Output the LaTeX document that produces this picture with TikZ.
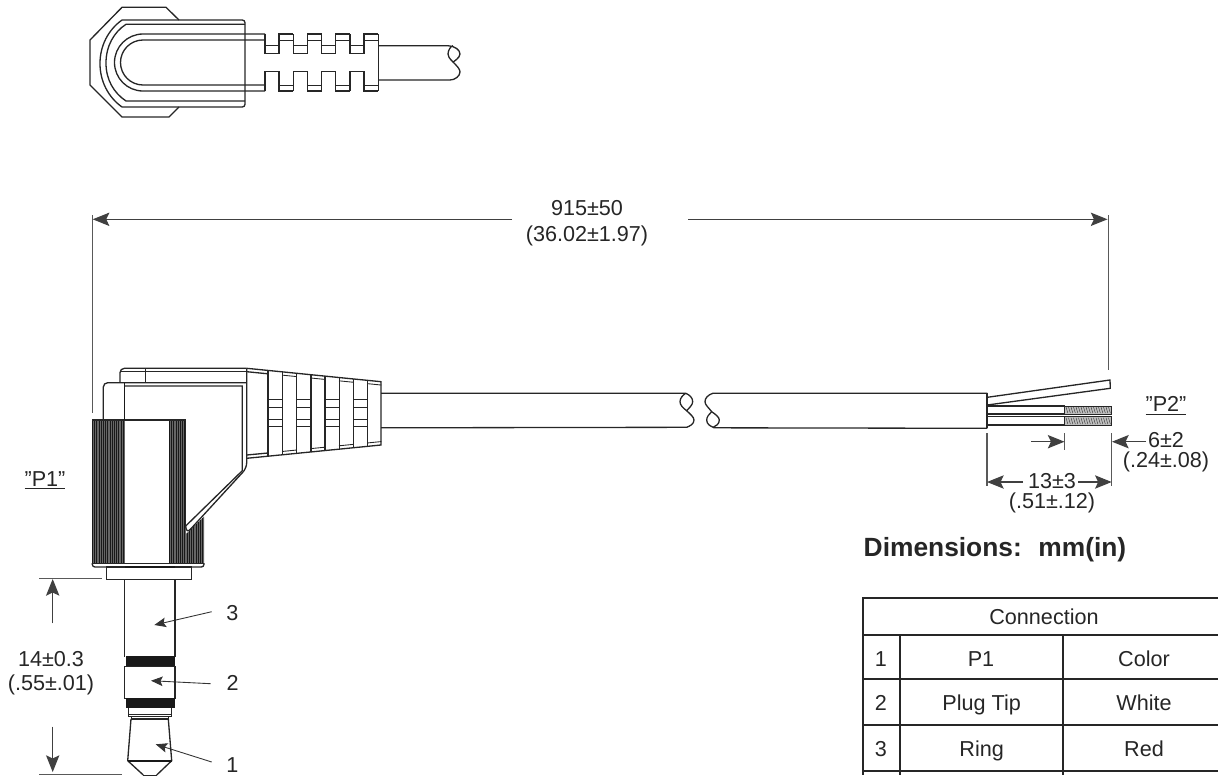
\documentclass[tikz,border=0pt]{standalone}
\usepackage{fontspec}
\setmainfont{Liberation Sans}
\usetikzlibrary{arrows.meta}
\tikzset{
  outline/.style={line width=0.75pt, black!85},
  thinline/.style={line width=0.5pt, black!85},
  tableline/.style={line width=1pt, black!85},
  extline/.style={line width=0.6pt, black!65},
  dimarrow/.style={line width=0.6pt, black!75, -{Stealth[length=9.5pt,width=7.6pt,inset=1.8pt]}},
  leader/.style={line width=0.5pt, black!80, -{Stealth[length=6.6pt,width=5.4pt,inset=1.2pt]}},
  dimlabel/.style={inner sep=0pt, anchor=base, text=black!85, font=\fontsize{12.3}{14}\selectfont},
  knurl/.style={line width=0.5pt, black!90},
  hatch/.style={line width=0.25pt, black!80},
  band/.style={fill=black!90, draw=black!90, line width=0.4pt},
}
\begin{document}
\begin{tikzpicture}[x=0.02cm, y=-0.02cm]
        \useasboundingbox (0,0) rectangle (1218,775);
        \clip (0,0) rectangle (1218,775);

        \draw [outline]  (179,20) -- (166,7.3) -- (122,7.3) -- (90,40) -- (90,85) -- (122,117) -- (169,117) -- (179,107);
        \draw [outline, rounded corners=1.5]  (122,20) -- (245,20) -- (245,107) -- (122,107);
        \draw [outline]  (122,20) .. controls (108,30) and (100,46) .. (100,63.5) .. controls (100,81) and (108,97) .. (122,107);
        \draw [outline]  (245,24.3) -- (126,24.3) .. controls (114,32) and (106,46) .. (106,63) .. controls (106,80) and (114,93) .. (126,101) -- (245,101);
        \draw [outline]  (265,34) -- (143,34) arc (-90:-270:28.5) -- (265,91);
        \draw [outline]  (265,40) -- (143,40) arc (-90:-270:22.5) -- (265,85);

        \foreach \xa in {265,293.3,321.7,350} {
          \draw [outline]  (\xa,34) -- (\xa,53.3) -- (\xa+14,53.3) -- (\xa+14,34) -- (\xa+28.3,34);
          \draw [outline]  (\xa,91) -- (\xa,71.7) -- (\xa+14,71.7) -- (\xa+14,91) -- (\xa+28.3,91);
          \draw [thinline] (\xa,45.7) -- (\xa+14,45.7);
          \draw [thinline] (\xa+14,40) -- (\xa+28.3,40);
          \draw [thinline] (\xa+14,85) -- (\xa+28.3,85);
          \draw [outline]  (\xa+28.3,34) -- (\xa+28.3,53.3);
          \draw [outline]  (\xa+28.3,91) -- (\xa+28.3,71.7);
        }
        \draw [outline]  (378.3,34) -- (378.3,91);
        \draw [outline]  (378.3,45.7) -- (448,45.7) .. controls (455,46) and (460,50) .. (460,54) .. controls (460,58) and (453,62) .. (453,62) .. controls (449,58) and (448,56) .. (448,54) .. controls (448,50) and (451,46) .. (453,45.7);
        \draw [outline]  (453,62) .. controls (457,66) and (460,69) .. (460,72) .. controls (460,76) and (455,80) .. (450,80) -- (378.3,80);

        \fill [black!60]  (92.3,420) rectangle (125,563);
        \fill [black!60]  (169.3,420) rectangle (185.7,563);
        \fill [black!60]  (185.7,534.2) -- (204,516.7) -- (204,563) -- (185.7,563) -- cycle;
        \foreach \xk in {92.5,94.7,...,124.5} {
          \draw [knurl]  (\xk,420) -- (\xk,563);
        }
        \foreach \xk in {169.5,171.7,...,185.5} {
          \draw [knurl]  (\xk,420) -- (\xk,563);
        }
        \foreach \xk in {187.2,189.4,...,204} {
          \draw [knurl]  (\xk,{533.3-(\xk-186.7)*0.96}) -- (\xk,563);
        }

        \draw [outline]  (92.3,420) -- (185.7,420);
        \draw [outline]  (185.7,420) -- (185.7,526);
        \draw [outline, rounded corners=1.5]  (92.3,563) -- (92.3,567) -- (204,567) -- (204,563);
        \draw [thinline] (92.3,563.3) -- (204,563.3);
        \draw [outline]  (106.7,567) rectangle (191.7,579.3);
        \draw [line width=1pt, black!90]  (124.7,567) -- (175,567);

        \draw [outline, rounded corners=2.5]  (103.3,420) -- (103.3,382.7) -- (246.7,382.7);
        \draw [outline, rounded corners=2.5]  (120,382.7) -- (120,368.3) -- (246.7,368.3);
        \draw [outline]  (120,371.7) -- (246.7,371.7);
        \draw [outline]  (145.7,368.3) -- (145.7,382.7);
        \draw [line width=1.1pt, black!90]  (124.5,382.7) -- (124.5,420);
        \draw [outline]  (125,386) -- (242.3,386) -- (242.3,470.7) -- (185.7,526);
        \draw [outline, rounded corners=3]  (246.7,368.3) -- (246.7,468) -- (186.7,533.3) -- (185.7,526);

        \draw [outline]  (246.7,368.3) -- (381,381.7) -- (381,445) -- (246.7,458.3);
        \draw [outline]  (246.7,371.7) -- (268,373.8);
        \draw [outline]  (246.7,455) -- (268,453);
        \foreach \xb in {282.3,310.7,339,367.3} {
          \draw [thinline]  (\xb,{368.3+(\xb-246.7)*0.0998+3.3}) -- (\xb+14,{368.3+(\xb+14-246.7)*0.0998+3.3});
          \draw [thinline]  (\xb,{458.3-(\xb-246.7)*0.0998-3.3}) -- (\xb+14,{458.3-(\xb+14-246.7)*0.0998-3.3});
        }
        \foreach \xb in {268,296.7,325,353.3} {
          \draw [outline]  (\xb,{368.3+(\xb-246.7)*0.0998}) -- (\xb,{458.3-(\xb-246.7)*0.0998});
          \draw [outline]  (\xb+14.2,{368.3+(\xb+14.2-246.7)*0.0998}) -- (\xb+14.2,{458.3-(\xb+14.2-246.7)*0.0998});
          \foreach \yb in {399.3,407.3,419,426} {
            \draw [thinline]  (\xb,\yb) -- (\xb+14.2,\yb);
          }
        }

        \draw [outline]  (381,393.3) -- (685.7,393.3) .. controls (690,395) and (692.7,398) .. (692.7,401.7) .. controls (692.7,405) and (689,408) .. (686.7,410.7) .. controls (683,408) and (680,405) .. (680,401.7) .. controls (680,398) and (683,395) .. (685.7,393.3);
        \draw [outline]  (686.7,410.7) .. controls (690,414) and (694,417) .. (694,420) .. controls (694,424) and (690,426) .. (686.7,427.3) -- (381,427.8);
        \draw [outline]  (987.3,393.3) -- (712.7,393.3) .. controls (708,395) and (705,398) .. (705,401.7) .. controls (705,405) and (709,408) .. (711.7,411.7) .. controls (715,414) and (719.3,417) .. (719.3,420) .. controls (719.3,424) and (716,426) .. (713.3,427.3) .. controls (710,426) and (706.7,424) .. (706.7,420) .. controls (706.7,417) and (709,414) .. (711.7,411.7);
        \draw [outline]  (713.3,427.8) -- (987.3,428.3);

        \draw [line width=1pt, black!85]  (987.3,393.3) -- (987.3,428.3);
        \draw [outline]  (987.3,397.3) -- (1110,380) -- (1110.3,388.3) -- (987.3,405);
        \draw [outline]  (987.3,406) rectangle (1064.3,414);
        \draw [outline]  (987.3,416.7) rectangle (1064.3,425);
        \draw [thinline, fill=black!25]  (1064.3,406) rectangle (1111.7,414);
        \draw [thinline, fill=black!25]  (1064.3,416.7) rectangle (1111.7,425);
        \foreach \xh in {1066,1068.5,...,1110} {
          \draw [hatch]  (\xh,407) -- (\xh+1.8,413);
          \draw [hatch]  (\xh,417.7) -- (\xh+1.8,424);
        }

        \draw [extline]  (92.7,215) -- (92.7,413);
        \draw [extline]  (1108.3,215) -- (1108.3,370);
        \draw [extline]  (987,433) -- (987,486);
        \draw [extline]  (1064.5,433) -- (1064.5,450);
        \draw [extline]  (1111.7,433) -- (1111.7,486);
        \draw [extline]  (39,578.7) -- (101.7,578.7);
        \draw [extline]  (39,774.5) -- (122,774.5);

        \node [dimlabel] (lenmm)   at (587,215) {915±50};
        \node [dimlabel] (lenin)   at (587,241.7) {(36.02±1.97)};
        \node [dimlabel] (stripmm) at (1166,447.3) {6±2};
        \node [dimlabel] (stripin) at (1166,467.3) {(.24±.08)};
        \node [dimlabel] (jackmm)  at (1052,488.7) {13±3};
        \node [dimlabel] (jackin)  at (1052,508.3) {(.51±.12)};
        \node [dimlabel] (plugmm)  at (51,666) {14±0.3};
        \node [dimlabel] (plugin)  at (51,690.7) {(.55±.01)};
        \node [dimlabel] (ptwo)    at (1166,411.7) {\underline{"P2"}};
        \node [dimlabel] (pone)    at (45,486) {\underline{"P1"}};
        \node [dimlabel] (three)   at (232.3,620.7) {3};
        \node [dimlabel] (two)     at (232.7,690) {2};
        \node [dimlabel] (one)     at (232.3,772.7) {1};
        \node [inner sep=0pt, anchor=base, text=black!85, font=\fontsize{15}{18}\selectfont\bfseries] (dimtitle) at (995,556.7) {Dimensions:\ \ \hspace{1.1pt}mm(in)};

        \coordinate (lenl)   at (92.7,219.3);
        \coordinate (lenr)   at (1107.5,219.3);
        \coordinate (lenla)  at (512,219.3);
        \coordinate (lenra)  at (688,219.3);
        \coordinate (wiret)  at (1064.5,441.7);
        \coordinate (wirel)  at (1031,441.7);
        \coordinate (stripe) at (1112,441.7);
        \coordinate (stripa) at (1146,441.7);
        \coordinate (jackl)  at (987,482);
        \coordinate (jackla) at (1023,482);
        \coordinate (jackr)  at (1111.7,482);
        \coordinate (jackra) at (1078,482);
        \coordinate (plugt)  at (52.7,579);
        \coordinate (plugta) at (52.7,623.3);
        \coordinate (plugb)  at (52.7,772);
        \coordinate (plugba) at (52.7,726.7);
        \coordinate (sleeve) at (154.3,625);
        \coordinate (ringp)  at (151,680.7);
        \coordinate (tipp)   at (155.7,744.3);
        \coordinate (threea) at (211.7,611.7);
        \coordinate (twoa)   at (210.7,683.7);
        \coordinate (onea)   at (211.7,762);

        \draw [dimarrow]  (lenla) -- (lenl);
        \draw [dimarrow]  (lenra) -- (lenr);
        \draw [dimarrow]  (wirel) -- (wiret);
        \draw [dimarrow]  (stripa) -- (stripe);
        \draw [dimarrow]  (jackla) -- (jackl);
        \draw [dimarrow]  (jackra) -- (jackr);
        \draw [dimarrow]  (plugta) -- (plugt);
        \draw [dimarrow]  (plugba) -- (plugb);
        \draw [leader]  (threea) -- (sleeve);
        \draw [leader]  (twoa) -- (ringp);
        \draw [leader]  (onea) -- (tipp);

        \draw [outline]  (124.7,579.3) -- (124.7,656.7);
        \draw [outline]  (175,579.3) -- (175,656.7);
        \draw [band]     (126,656.7) rectangle (174,666);
        \draw [outline]  (124.7,666.7) rectangle (175,698.3);
        \draw [band]     (126,698.3) rectangle (174,707.7);
        \draw [outline]  (128.3,707.7) -- (128.3,716.7) -- (171.7,716.7) -- (171.7,707.7);
        \draw [thinline] (128.3,714) -- (171.7,714);
        \draw [outline]  (131.7,716.7) -- (131.7,719) -- (168.3,719) -- (168.3,716.7);
        \draw [outline]  (131,719) -- (127.7,760.7) -- (143.3,775);
        \draw [outline]  (168.3,719) -- (171.7,760.7) -- (156.7,775);
        \draw [line width=1.1pt, black!90]  (127.7,760.7) -- (171.7,760.7);
        \draw [thinline] (143.3,775) -- (156.7,775);

        \draw [tableline]  (1218,598.3) -- (863.3,598.3) -- (863.3,775);
        \draw [tableline]  (863.3,635) -- (1218,635);
        \draw [tableline]  (863.3,679.3) -- (1218,679.3);
        \draw [tableline]  (863.3,725) -- (1218,725);
        \draw [tableline]  (863.3,771) -- (1218,771);
        \draw [tableline]  (900.3,635) -- (900.3,775);
        \draw [tableline]  (1063.3,635) -- (1063.3,775);

        \node [dimlabel] (conn)   at (1044,624) {Connection};
        \node [dimlabel] (rowa)   at (881,666) {1};
        \node [dimlabel] (rowb)   at (881,710.7) {2};
        \node [dimlabel] (rowc)   at (881,756.7) {3};
        \node [dimlabel] (pina)   at (981,666) {P1};
        \node [dimlabel] (pinb)   at (981.7,710.7) {Plug Tip};
        \node [dimlabel] (pinc)   at (981.7,756.7) {Ring};
        \node [dimlabel] (cola)   at (1144,666) {Color};
        \node [dimlabel] (colb)   at (1144,710.7) {White};
        \node [dimlabel] (colc)   at (1144,756.7) {Red};
      \end{tikzpicture}
\end{document}
